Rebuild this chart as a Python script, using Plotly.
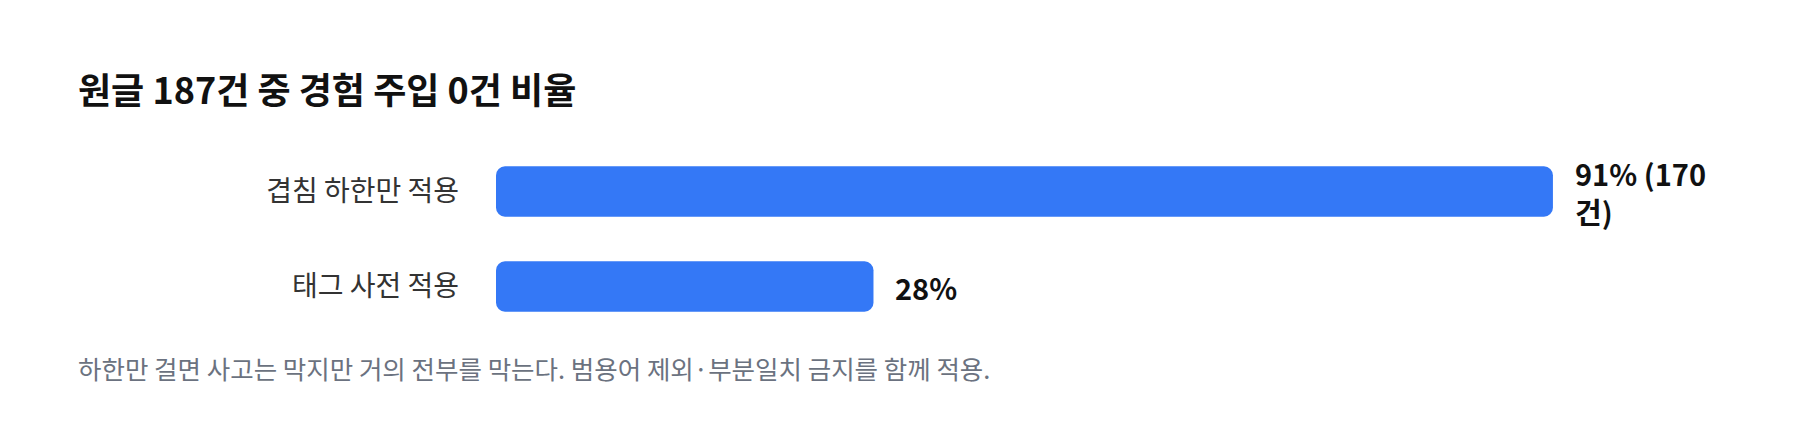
import plotly.graph_objects as go

# data
categories = ['겹침 하한만 적용', '태그 사전 적용']
values = [91, 28]
value_labels = ['91% (170<br>건)', '28%']

title_text = '원글 187건 중 경험 주입 0건 비율'
note_text = '하한만 걸면 사고는 막지만 거의 전부를 막는다. 범용어 제외·부분일치 금지를 함께 적용.'

bar_color = '#3478f6'
font_family = 'Noto Sans CJK KR, Noto Sans, sans-serif'
bar_pad = 7  # the track starts a little left of zero, like the original

fig = go.Figure()
# one bar per row, from -bar_pad up to the value
fig.add_trace(go.Bar(
    x=[v + bar_pad for v in values], y=categories, base=-bar_pad,
    orientation='h',
    marker=dict(color=bar_color, cornerradius=9, line=dict(width=0)),
    width=0.53, hoverinfo='skip',
))

# value labels to the right of each bar
for cat, v, lab in zip(categories, values, value_labels):
    fig.add_annotation(
        x=v, y=cat, text=lab, showarrow=False,
        xanchor='left', yanchor='middle', align='left', xshift=20,
        font=dict(family=font_family, size=29, color='#111111', weight='bold'),
    )

fig.add_annotation(
    xref='paper', yref='paper', x=0, y=1,
    text='<b>' + title_text + '</b>', showarrow=False,
    xanchor='left', yanchor='middle',
    xshift=-420, yshift=56,
    font=dict(family=font_family, size=36, color='#111111'),
)

fig.add_annotation(
    xref='paper', yref='paper', x=0, y=0,
    text=note_text, showarrow=False,
    xanchor='left', yanchor='middle',
    xshift=-420, yshift=-33,
    font=dict(family=font_family, size=25.5, color='#6b7280'),
)

fig.update_layout(
    width=1784, height=432,
    margin=dict(l=488, r=142, t=136, b=106),
    paper_bgcolor='white', plot_bgcolor='white',
    showlegend=False,
    font=dict(family=font_family),
    xaxis=dict(range=[-bar_pad, 100], visible=False, showgrid=False,
               zeroline=False, fixedrange=True),
    yaxis=dict(
        categoryorder='array', categoryarray=categories, autorange='reversed',
        showgrid=False, zeroline=False, showline=False, ticks='',
        ticklabelstandoff=36,
        tickfont=dict(family=font_family, size=28, color='#333333'),
        fixedrange=True,
    ),
)

fig.write_html('out.html')
